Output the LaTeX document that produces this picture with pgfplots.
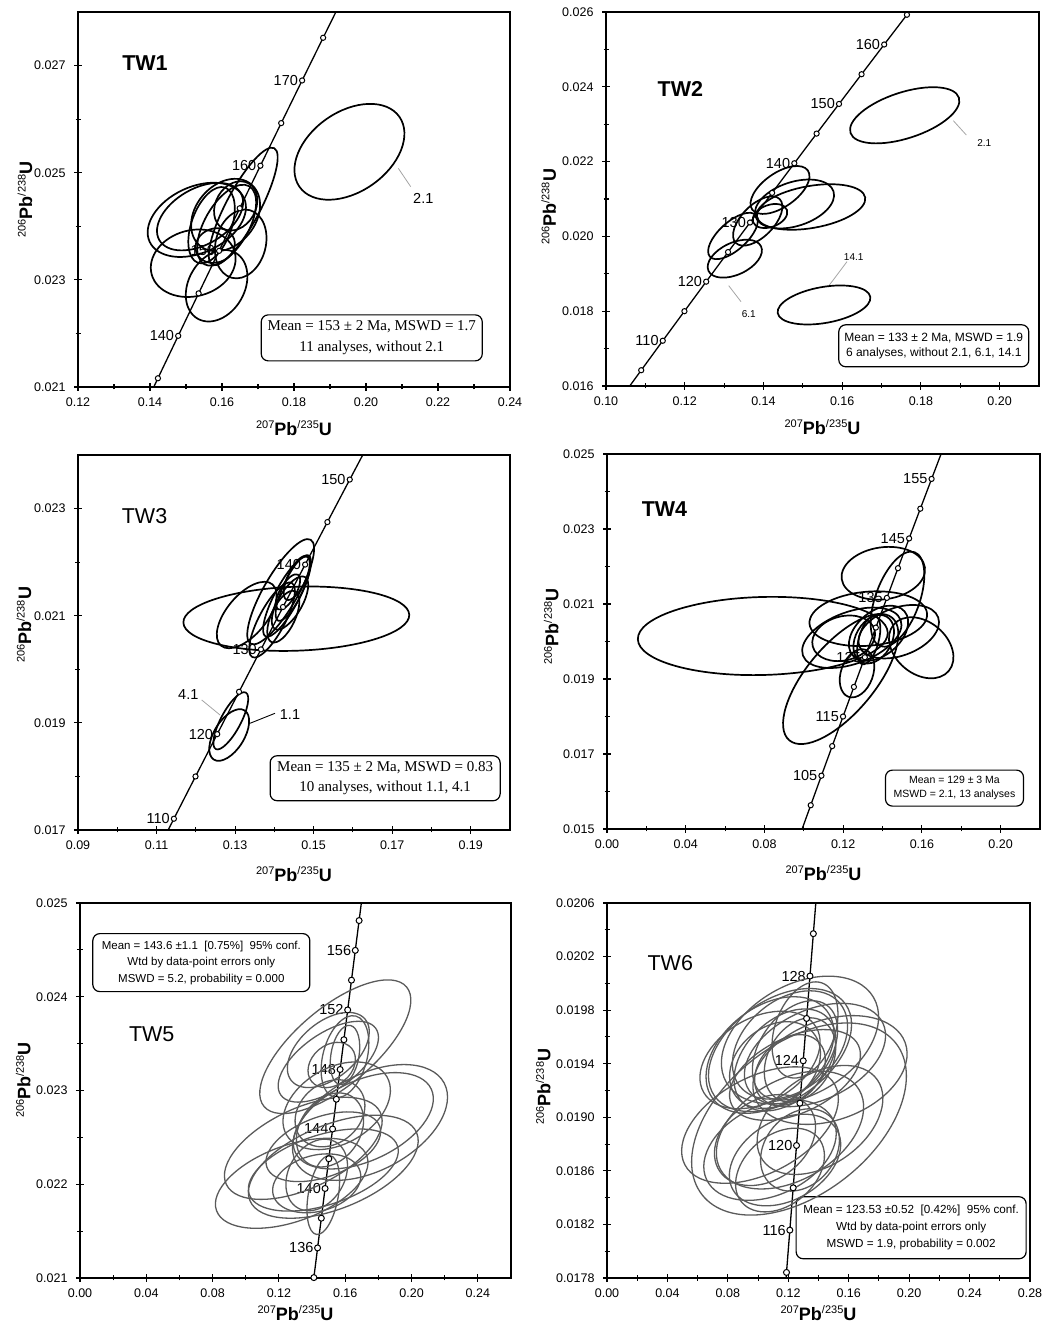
\documentclass[border=0pt]{standalone}
\usepackage{fontspec}
\setmainfont{Liberation Sans}
\newfontfamily\timesf{Liberation Serif}
\usepackage{pgfplots}
\pgfplotsset{compat=1.18}
\definecolor{ellgray}{RGB}{90,90,90}
\definecolor{leadgray}{RGB}{165,165,165}

\newcommand\fs[1]{\fontsize{#1}{#1}\selectfont}
\newcommand\sups[1]{\raisebox{6.5pt}{\fontsize{11}{11}\selectfont #1}}
\newcommand\ratiolab[2]{{\fontsize{18}{20}\selectfont\sups{#1}\textbf{Pb}\sups{/#2}\textbf{U}}}

% error ellipse drawn as a marker: semi-axes a, b (pt) and screen angle t (u = t+90)
\pgfdeclareplotmark{errell}{%
  \pgfpathellipse{\pgfpointorigin}%
    {\pgfpointpolar{\ellT}{\ellA pt}}%
    {\pgfpointpolar{\ellU}{\ellB pt}}%
  \pgfusepathqstroke}

\pgfplotsset{
  conc/.style={
    scale only axis, anchor=south west,
    axis line style={line width=1.5pt},
    tick pos=left, tick align=center,
    major tick length=8pt, minor tick length=5pt,
    tick style={black, line width=1.1pt},
    minor x tick num=1, minor y tick num=1,
    scaled ticks=false,
    tick label style={font=\fs{12.5}},
    xticklabel style={yshift=-3pt, /pgf/number format/.cd, fixed, fixed zerofill, precision=2, assume math mode=true},
    yticklabel style={xshift=-5pt, /pgf/number format/.cd, fixed, fixed zerofill, precision=3, assume math mode=true},
    xlabel={\ratiolab{207}{235}}, ylabel={\ratiolab{206}{238}},
  },
  ells/.style={
    scatter, only marks, mark=errell,
    scatter/use mapped color={draw=#1, fill=#1},
    mark options={line width=1.7pt},
    visualization depends on={value \thisrow{a} \as \ellA},
    visualization depends on={value \thisrow{b} \as \ellB},
    visualization depends on={value \thisrow{t} \as \ellT},
    visualization depends on={value \thisrow{u} \as \ellU},
  },
  cline/.style={black, line width=1.3pt, mark=none},
  cmark/.style={only marks, mark=*, mark size=#1, mark options={fill=white, draw=black, line width=1pt}},
}
\tikzset{
  age/.style={anchor=east, font=\fs{14.5}, inner sep=0pt, xshift=-4pt},
  box/.style={draw, rounded corners=7pt, line width=1.2pt, fill=white, align=center, inner sep=2pt},
}

\begin{document}
\begin{tikzpicture}
\useasboundingbox (0pt,0pt) rectangle (1054pt,1328pt);

% ---------------- TW1
\begin{axis}[conc, at={(78pt,941pt)}, width=432pt, height=375pt,
  xmin=0.12, xmax=0.24, ymin=0.021, ymax=0.028,
  xtick={0.12,0.14,0.16,0.18,0.20,0.22,0.24}, ytick={0.021,0.023,0.025,0.027},
  xlabel style={at={(axis description cs:0.5,-0.109)}, anchor=center},
  ylabel style={at={(axis description cs:-0.123,0.5)}, anchor=center}]
\addplot[ells=black] table {
x y a b t u
0.1530 0.02412 52 33 25 115
0.1539 0.02418 47 28 30 120
0.1520 0.02331 43 33 15 105
0.1585 0.02289 38 28 60 150
0.1659 0.02437 66 17 62 152
0.1652 0.02367 35 25 75 165
0.1610 0.02421 40 30 50 140
0.1581 0.02364 20 17 20 110
0.1638 0.02438 26 20 60 150
0.1571 0.02402 40 20 70 160
0.1613 0.02402 45 22 60 150
0.1954 0.02539 61 40 35 125
};
\addplot[cline] table {
0.1365877 0.0203710
0.1421983 0.0211627
0.1478366 0.0219550
0.1535028 0.0227480
0.1591970 0.0235416
0.1649192 0.0243358
0.1706697 0.0251306
0.1764486 0.0259260
0.1822560 0.0267220
0.1880921 0.0275187
0.1939570 0.0283160
};
\addplot[cmark=2.6pt] table {
0.1421983 0.0211627
0.1478366 0.0219550
0.1535028 0.0227480
0.1591970 0.0235416
0.1649192 0.0243358
0.1706697 0.0251306
0.1764486 0.0259260
0.1822560 0.0267220
0.1880921 0.0275187
};
\node[age] at (axis cs:0.1478366,0.0219550) {140};
\node[age] at (axis cs:0.1591970,0.0235416) {150};
\node[age] at (axis cs:0.1706697,0.0251306) {160};
\node[age] at (axis cs:0.1822560,0.0267220) {170};
\draw[leadgray, line width=0.8pt] (axis cs:0.20897,0.025082) -- (axis cs:0.21242,0.024739);
\node[font=\fs{14.5}] at (axis cs:0.21592,0.024522) {2.1};
\node[font={\fs{21.5}\bfseries}] at (rel axis cs:0.155,0.865) {TW1};
\node[box, minimum width=221pt, minimum height=46pt, font={\timesf\fontsize{15}{21.5}\selectfont}]
  at (rel axis cs:0.680,0.131) {Mean = 153 ± 2 Ma, MSWD = 1.7\\11 analyses, without 2.1};
\end{axis}

% ---------------- TW2
\begin{axis}[conc, at={(606pt,942pt)}, width=433pt, height=374pt,
  xmin=0.10, xmax=0.21, ymin=0.016, ymax=0.026,
  xtick={0.10,0.12,0.14,0.16,0.18,0.20}, ytick={0.016,0.018,0.020,0.022,0.024,0.026},
  xlabel style={at={(axis description cs:0.5,-0.11)}, anchor=center},
  ylabel style={at={(axis description cs:-0.132,0.479)}, anchor=center}]
\addplot[ells=black] table {
x y a b t u
0.13226 0.020011 31 14 42 132
0.13854 0.020412 31 16 45 135
0.14420 0.021241 34 17 35 125
0.14789 0.020866 41 22 18 108
0.15208 0.020786 55 21 10 100
0.14166 0.020545 18 11 20 110
0.13272 0.019404 29 16 25 115
0.17588 0.023238 57 23 18 108
0.15538 0.018166 47 18 10 100
};
\addplot[cline] table {
0.1034979 0.0156334
0.1089451 0.0164215
0.1144194 0.0172102
0.1199206 0.0179994
0.1254489 0.0187893
0.1310046 0.0195799
0.1365877 0.0203710
0.1421983 0.0211627
0.1478366 0.0219550
0.1535028 0.0227480
0.1591970 0.0235416
0.1649192 0.0243358
0.1706697 0.0251306
0.1764486 0.0259260
0.1822560 0.0267220
};
\addplot[cmark=2.6pt] table {
0.1089451 0.0164215
0.1144194 0.0172102
0.1199206 0.0179994
0.1254489 0.0187893
0.1310046 0.0195799
0.1365877 0.0203710
0.1421983 0.0211627
0.1478366 0.0219550
0.1535028 0.0227480
0.1591970 0.0235416
0.1649192 0.0243358
0.1706697 0.0251306
0.1764486 0.0259260
};
\node[age] at (axis cs:0.1144194,0.0172102) {110};
\node[age] at (axis cs:0.1254489,0.0187893) {120};
\node[age] at (axis cs:0.1365877,0.0203710) {130};
\node[age] at (axis cs:0.1478366,0.0219550) {140};
\node[age] at (axis cs:0.1591970,0.0235416) {150};
\node[age] at (axis cs:0.1706697,0.0251306) {160};
\draw[leadgray, line width=0.8pt] (axis cs:0.18823,0.023094) -- (axis cs:0.19153,0.022711);
\node[font=\fs{10}] at (axis cs:0.19610,0.022505) {2.1};
\draw[leadgray, line width=0.8pt] (axis cs:0.16122,0.019324) -- (axis cs:0.15657,0.018674);
\node[font=\fs{10}] at (axis cs:0.16292,0.019457) {14.1};
\draw[leadgray, line width=0.8pt] (axis cs:0.13117,0.018682) -- (axis cs:0.13430,0.018254);
\node[font=\fs{10}] at (axis cs:0.13625,0.017917) {6.1};
\node[font={\fs{21.5}\bfseries}] at (rel axis cs:0.1716,0.7936) {TW2};
\node[box, minimum width=190pt, minimum height=42pt, font={\fontsize{12}{15}\selectfont}]
  at (rel axis cs:0.757,0.1075) {Mean = 133 ± 2 Ma, MSWD = 1.9\\6 analyses, without 2.1, 6.1, 14.1};
\end{axis}

% ---------------- TW3
\begin{axis}[conc, at={(78pt,498pt)}, width=432pt, height=375pt,
  xmin=0.09, xmax=0.20, ymin=0.017, ymax=0.024,
  xtick={0.09,0.11,0.13,0.15,0.17,0.19}, ytick={0.017,0.019,0.021,0.023},
  xlabel style={at={(axis description cs:0.5,-0.117)}, anchor=center},
  ylabel style={at={(axis description cs:-0.125,0.547)}, anchor=center}]
\addplot[ells=black] table {
x y a b t u
0.14559 0.020944 113 32 2 92
0.13296 0.021013 40 20 50 140
0.14161 0.021448 60 17 60 150
0.14314 0.021355 45 12 62 152
0.14482 0.021517 36 10 65 155
0.14398 0.021237 30 12 60 150
0.14228 0.020982 28 12 65 155
0.14569 0.021704 24 9 65 155
0.14347 0.021443 20 8 60 150
0.13940 0.020920 42 13 62 152
0.12891 0.019038 32 10 62 152
0.12850 0.018773 29 15 58 148
};
\addplot[cline] table {
0.1089451 0.0164215
0.1144194 0.0172102
0.1199206 0.0179994
0.1254489 0.0187893
0.1310046 0.0195799
0.1365877 0.0203710
0.1421983 0.0211627
0.1478366 0.0219550
0.1535028 0.0227480
0.1591970 0.0235416
0.1649192 0.0243358
0.1706697 0.0251306
};
\addplot[cmark=2.6pt] table {
0.1144194 0.0172102
0.1199206 0.0179994
0.1254489 0.0187893
0.1310046 0.0195799
0.1365877 0.0203710
0.1421983 0.0211627
0.1478366 0.0219550
0.1535028 0.0227480
0.1591970 0.0235416
};
\node[age] at (axis cs:0.1144194,0.0172102) {110};
\node[age] at (axis cs:0.1254489,0.0187893) {120};
\node[age] at (axis cs:0.1365877,0.0203710) {130};
\node[age] at (axis cs:0.1478366,0.0219550) {140};
\node[age] at (axis cs:0.1591970,0.0235416) {150};
\draw[leadgray, line width=0.8pt] (axis cs:0.1215,0.019427) -- (axis cs:0.12616,0.019147);
\node[font=\fs{14.5}] at (axis cs:0.11809,0.01952) {4.1};
\draw[black, line width=0.9pt] (axis cs:0.1338,0.018992) -- (axis cs:0.14016,0.019178);
\node[font=\fs{14.5}] at (axis cs:0.14398,0.019165) {1.1};
\node[font=\fs{21.5}] at (rel axis cs:0.154,0.838) {TW3};
\node[box, minimum width=230pt, minimum height=45pt, font={\timesf\fontsize{15}{19.3}\selectfont}]
  at (rel axis cs:0.711,0.138) {Mean = 135 ± 2 Ma, MSWD = 0.83\\10 analyses, without 1.1, 4.1};
\end{axis}

% ---------------- TW4
\begin{axis}[conc, at={(607pt,499pt)}, width=433pt, height=375pt,
  xmin=0, xmax=0.22, ymin=0.015, ymax=0.025,
  xtick={0,0.04,0.08,0.12,0.16,0.20}, ytick={0.015,0.017,0.019,0.021,0.023,0.025},
  xlabel style={at={(axis description cs:0.5,-0.117)}, anchor=center},
  ylabel style={at={(axis description cs:-0.129,0.54)}, anchor=center}]
\addplot[ells=black] table {
x y a b t u
0.07916 0.020147 125 39 1.5 91.5
0.11874 0.019000 80 34 50 140
0.14039 0.021819 42 26 8 98
0.14760 0.021128 50 22 70 160
0.13276 0.020608 59 27 5 95
0.12438 0.020099 52 26 20 110
0.15964 0.019832 36 26 -40 50
0.12702 0.019152 25 16 70 160
0.13551 0.020061 26 18 60 150
0.13795 0.020219 34 22 40 130
0.14821 0.020261 42 24 20 110
0.13297 0.020040 25 10 75 165
0.12026 0.020085 32 22 15 105
};
\addplot[cline] table {
0.0980773 0.0148460
0.1034979 0.0156334
0.1089451 0.0164215
0.1144194 0.0172102
0.1199206 0.0179994
0.1254489 0.0187893
0.1310046 0.0195799
0.1365877 0.0203710
0.1421983 0.0211627
0.1478366 0.0219550
0.1535028 0.0227480
0.1591970 0.0235416
0.1649192 0.0243358
0.1706697 0.0251306
0.1764486 0.0259260
};
\addplot[cmark=2.6pt] table {
0.1034979 0.0156334
0.1089451 0.0164215
0.1144194 0.0172102
0.1199206 0.0179994
0.1254489 0.0187893
0.1310046 0.0195799
0.1365877 0.0203710
0.1421983 0.0211627
0.1478366 0.0219550
0.1535028 0.0227480
0.1591970 0.0235416
0.1649192 0.0243358
};
\node[age] at (axis cs:0.1089451,0.0164215) {105};
\node[age] at (axis cs:0.1199206,0.0179994) {115};
\node[age] at (axis cs:0.1310046,0.0195799) {125};
\node[age] at (axis cs:0.1421983,0.0211627) {135};
\node[age] at (axis cs:0.1535028,0.0227480) {145};
\node[age] at (axis cs:0.1649192,0.0243358) {155};
\node[font={\fs{21.5}\bfseries}] at (rel axis cs:0.1328,0.852) {TW4};
\node[box, minimum width=138pt, minimum height=36pt, font={\fontsize{10.5}{13.6}\selectfont}]
  at (rel axis cs:0.8025,0.109) {Mean = 129 ± 3 Ma\\MSWD = 2.1, 13 analyses};
\end{axis}

% ---------------- TW5
\begin{axis}[conc, at={(80pt,50pt)}, width=431pt, height=375pt,
  xmin=0, xmax=0.26, ymin=0.021, ymax=0.025,
  xtick={0,0.04,0.08,0.12,0.16,0.20,0.24}, ytick={0.021,0.022,0.023,0.024,0.025},
  xlabel style={at={(axis description cs:0.5,-0.093)}, anchor=center},
  ylabel style={at={(axis description cs:-0.132,0.528)}, anchor=center}]
\addplot[ells=ellgray, mark options={line width=1.3pt}] table {
x y a b t u
0.15401 0.023467 93 39 40 130
0.14979 0.023307 58 28 35 125
0.14979 0.023432 48 28 40 130
0.15986 0.023361 42 22 75 165
0.15184 0.023272 26 20 40 130
0.15986 0.023379 30 14 80 170
0.17494 0.022659 84 48 28 118
0.17090 0.022677 75 40 25 115
0.15485 0.022837 58 38 30 120
0.15081 0.022757 38 30 40 130
0.13470 0.022383 85 40 25 115
0.12771 0.022010 80 38 20 110
0.15280 0.022187 90 42 22 112
0.14677 0.022152 78 35 18 108
0.14279 0.022010 45 28 15 105
0.14279 0.022099 38 28 60 150
0.14677 0.021885 40 15 80 170
0.14677 0.022400 60 30 20 110
0.15081 0.022579 40 30 55 145
};
\addplot[cline] table {
0.1388286 0.0206876
0.1410738 0.0210043
0.1433238 0.0213211
0.1455780 0.0216380
0.1478366 0.0219550
0.1500998 0.0222721
0.1523674 0.0225894
0.1546394 0.0229067
0.1569160 0.0232241
0.1591970 0.0235416
0.1614825 0.0238592
0.1637725 0.0241769
0.1660670 0.0244947
0.1683661 0.0248126
0.1706697 0.0251306
0.1729779 0.0254487
};
\addplot[cmark=3pt] table {
0.1410738 0.0210043
0.1433238 0.0213211
0.1455780 0.0216380
0.1478366 0.0219550
0.1500998 0.0222721
0.1523674 0.0225894
0.1546394 0.0229067
0.1569160 0.0232241
0.1591970 0.0235416
0.1614825 0.0238592
0.1637725 0.0241769
0.1660670 0.0244947
0.1683661 0.0248126
};
\node[age] at (axis cs:0.1433238,0.0213211) {136};
\node[age] at (axis cs:0.1478366,0.0219550) {140};
\node[age] at (axis cs:0.1523674,0.0225894) {144};
\node[age] at (axis cs:0.1569160,0.0232241) {148};
\node[age] at (axis cs:0.1614825,0.0238592) {152};
\node[age] at (axis cs:0.1660670,0.0244947) {156};
\node[font=\fs{21.5}] at (rel axis cs:0.1664,0.650) {TW5};
\node[box, minimum width=217pt, minimum height=58pt, font={\fontsize{11.5}{16.5}\selectfont}]
  at (rel axis cs:0.2815,0.841) {Mean = 143.6 ±1.1\ \ [0.75\%]\ \ 95\% conf.\\Wtd by data-point errors only\\MSWD = 5.2, probability = 0.000};
\end{axis}

% ---------------- TW6
\begin{axis}[conc, at={(607pt,50pt)}, width=423pt, height=375pt,
  xmin=0, xmax=0.28, ymin=0.0178, ymax=0.0206,
  xtick={0,0.04,0.08,0.12,0.16,0.20,0.24,0.28},
  ytick={0.0178,0.0182,0.0186,0.0190,0.0194,0.0198,0.0202,0.0206},
  yticklabel style={/pgf/number format/precision=4},
  xlabel style={at={(axis description cs:0.5,-0.093)}, anchor=center},
  ylabel style={at={(axis description cs:-0.151,0.51)}, anchor=center}]
\addplot[ells=ellgray, mark options={line width=1.3pt}] table {
x y a b t u
0.12775 0.019577 85 55 30 120
0.11452 0.019502 80 50 35 125
0.10790 0.019465 72 48 38 128
0.12113 0.019540 65 45 40 130
0.11783 0.019428 60 40 45 135
0.12444 0.019502 55 35 55 145
0.11121 0.019390 50 38 40 130
0.12775 0.019428 45 32 60 150
0.12113 0.019353 40 30 45 135
0.13106 0.019652 50 30 70 160
0.10128 0.019428 65 42 30 120
0.13768 0.019465 75 45 25 115
0.14761 0.019353 80 50 20 110
0.12444 0.019316 70 38 25 115
0.12709 0.018987 123 75 38 128
0.10790 0.018756 70 45 25 115
0.11783 0.018681 60 40 30 120
0.10459 0.018830 55 40 35 125
0.12113 0.018905 80 50 30 120
0.11452 0.018606 50 35 40 130
0.12775 0.018756 45 35 50 140
0.10128 0.018942 85 48 28 118
0.14099 0.018980 70 45 35 125
};
\addplot[cline] table {
0.1166166 0.0175258
0.1188182 0.0178416
0.1210241 0.0181574
0.1232343 0.0184733
0.1254489 0.0187893
0.1276679 0.0191055
0.1298912 0.0194217
0.1321190 0.0197380
0.1343511 0.0200544
0.1365877 0.0203710
0.1388286 0.0206876
};
\addplot[cmark=3pt] table {
0.1188182 0.0178416
0.1210241 0.0181574
0.1232343 0.0184733
0.1254489 0.0187893
0.1276679 0.0191055
0.1298912 0.0194217
0.1321190 0.0197380
0.1343511 0.0200544
0.1365877 0.0203710
};
\node[age] at (axis cs:0.1210241,0.0181574) {116};
\node[age] at (axis cs:0.1254489,0.0187893) {120};
\node[age] at (axis cs:0.1298912,0.0194217) {124};
\node[age] at (axis cs:0.1343511,0.0200544) {128};
\node[font=\fs{21.5}] at (rel axis cs:0.1496,0.839) {TW6};
\node[box, minimum width=230pt, minimum height=62pt, font={\fontsize{11.7}{17}\selectfont}]
  at (rel axis cs:0.719,0.134) {Mean = 123.53 ±0.52\ \ [0.42\%]\ \ 95\% conf.\\Wtd by data-point errors only\\MSWD = 1.9, probability = 0.002};
\end{axis}
\end{tikzpicture}
\end{document}
